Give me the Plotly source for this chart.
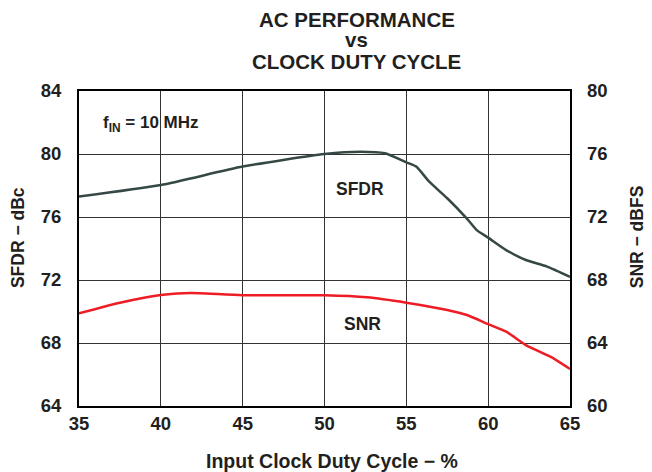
import plotly.graph_objects as go

duty_sfdr = [35, 40, 45, 50, 52.2, 53.7, 55, 55.6, 56.4, 57.5, 58.7, 59.3, 60, 61.1, 62.3, 63.6, 65]
sfdr = [77.3, 78.03, 79.2, 80.0, 80.15, 80.05, 79.47, 79.2, 78.24, 77.19, 75.9, 75.17, 74.69, 73.9, 73.27, 72.85, 72.2]

duty_snr = [35, 37.5, 40, 41.4, 42.4, 45, 50, 52.6, 55, 57.5, 58.7, 60, 61.1, 62.3, 63.8, 65]
snr = [65.88, 66.56, 67.05, 67.16, 67.16, 67.03, 67.03, 66.9, 66.56, 66.1, 65.78, 65.2, 64.72, 63.87, 63.13, 62.35]

x_ticks = [35, 40, 45, 50, 55, 60, 65]
left_ticks = [64, 68, 72, 76, 80, 84]
right_ticks = [60, 64, 68, 72, 76, 80]

FONT = "Liberation Sans"
TXT = "#231f20"

fig = go.Figure()
fig.add_trace(go.Scatter(x=duty_sfdr, y=sfdr, mode="lines", name="SFDR",
                         line=dict(color="#364845", width=2.5, shape="spline", smoothing=0.6),
                         yaxis="y"))
fig.add_trace(go.Scatter(x=duty_snr, y=snr, mode="lines", name="SNR",
                         line=dict(color="#ee1c25", width=2.5, shape="spline", smoothing=0.6),
                         yaxis="y2"))

fig.update_layout(
    width=644, height=464,
    margin=dict(l=71, r=82, t=83, b=66),
    paper_bgcolor="white", plot_bgcolor="white",
    showlegend=False,
    font=dict(family=FONT, color=TXT),
    xaxis=dict(range=[35, 65], tickvals=x_ticks, ticktext=[f"<b>{v}</b>" for v in x_ticks],
               showgrid=True, gridcolor="#333333", gridwidth=1,
               showline=True, linecolor="#000000", linewidth=2, mirror=True,
               ticks="", zeroline=False,
               tickfont=dict(size=18.5, family=FONT, color=TXT)),
    yaxis=dict(range=[64, 84], tickvals=left_ticks, ticktext=[f"<b>{v}</b>" for v in left_ticks],
               showgrid=True, gridcolor="#333333", gridwidth=1,
               showline=True, linecolor="#000000", linewidth=2, mirror=True,
               ticks="", zeroline=False, ticklabelstandoff=12,
               tickfont=dict(size=18.5, family=FONT, color=TXT)),
    yaxis2=dict(range=[60, 80], tickvals=right_ticks, ticktext=[f"<b>{v}</b>" for v in right_ticks],
                overlaying="y", side="right", showgrid=False, showline=False,
                ticks="", zeroline=False, ticklabelstandoff=16,
                tickfont=dict(size=18.5, family=FONT, color=TXT)),
)

# title lines
for txt, yp in [("AC PERFORMANCE", 1.2254), ("vs", 1.165), ("CLOCK DUTY CYCLE", 1.0952)]:
    fig.add_annotation(x=0.566, y=yp, xref="paper", yref="paper", xanchor="center", yanchor="middle",
                       text=f"<b>{txt}</b>", showarrow=False,
                       font=dict(size=20.5, family=FONT, color=TXT))

# axis titles
fig.add_annotation(x=0.5143, y=-0.1737, xref="paper", yref="paper", xanchor="center", yanchor="middle",
                   text="<b>Input Clock Duty Cycle − %</b>", showarrow=False,
                   font=dict(size=19.5, family=FONT, color=TXT))
fig.add_annotation(x=-0.1242, y=0.533, xref="paper", yref="paper", xanchor="center", yanchor="middle",
                   text="<b>SFDR − dBc</b>", showarrow=False, textangle=-90,
                   font=dict(size=17.5, family=FONT, color=TXT))
fig.add_annotation(x=1.137, y=0.5365, xref="paper", yref="paper", xanchor="center", yanchor="middle",
                   text="<b>SNR − dBFS</b>", showarrow=False, textangle=-90,
                   font=dict(size=17.5, family=FONT, color=TXT))

# in-plot labels
fig.add_annotation(x=36.33, y=81.9, xref="x", yref="y", xanchor="left", yanchor="middle",
                   text="<b>f<sub>IN</sub> = 10 MHz</b>", showarrow=False,
                   font=dict(size=17, family=FONT, color=TXT))
fig.add_annotation(x=52.14, y=77.78, xref="x", yref="y", xanchor="center", yanchor="middle",
                   text="<b>SFDR</b>", showarrow=False,
                   font=dict(size=17.5, family=FONT, color=TXT))
fig.add_annotation(x=52.32, y=65.21, xref="x", yref="y2", xanchor="center", yanchor="middle",
                   text="<b>SNR</b>", showarrow=False,
                   font=dict(size=17.5, family=FONT, color=TXT))

fig.write_html("out.html")
